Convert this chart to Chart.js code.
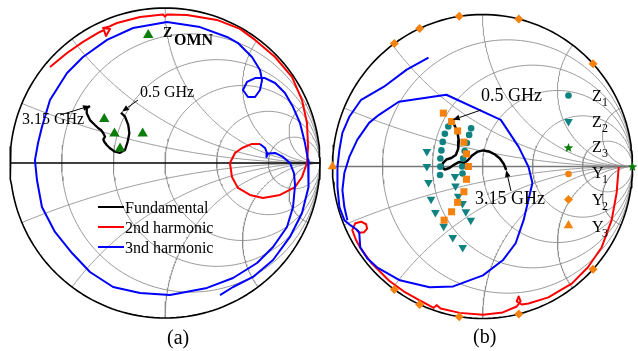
<!DOCTYPE html>
<html>
<head>
<meta charset="utf-8">
<script src="https://cdn.jsdelivr.net/npm/chart.js@4/dist/chart.umd.min.js"></script>
<style>
html, body { margin: 0; padding: 0; background: #fff; }
#wrap { position: relative; width: 638px; height: 351px; overflow: hidden; background: #fff; }
canvas { position: absolute; top: 0; }
</style>
</head>
<body>
<div id="wrap">
  <canvas id="smithA" width="330" height="351" style="left:0px"></canvas>
  <canvas id="smithB" width="314" height="351" style="left:324px"></canvas>
</div>
<script>
// Smith chart grid: normalized resistance circles and reactance arcs
const resistanceCircles = [0.2, 0.5, 1, 2, 5];
const reactanceArcs = [0.2, 0.5, 1, 2, 5, -0.2, -0.5, -1, -2, -5];

// ---- (a) reflection coefficients, [Re, Im] ----
const fundamentalA = [[-0.284,0.325],[-0.258,0.299],[-0.237,0.245],[-0.230,0.192],[-0.241,0.137],[-0.258,0.084],[-0.290,0.066],[-0.323,0.073],[-0.355,0.095],[-0.376,0.116],[-0.392,0.137],[-0.398,0.153],[-0.387,0.170],[-0.398,0.192],[-0.413,0.213],[-0.430,0.224],[-0.452,0.245],[-0.484,0.277],[-0.505,0.321],[-0.505,0.353],[-0.484,0.368]];
const harmonic2A = [[-0.742,0.619],[-0.632,0.710],[-0.529,0.781],[-0.432,0.839],[-0.394,0.858],[-0.381,0.819],[-0.355,0.865],[-0.400,0.871],[-0.368,0.877],[-0.310,0.903],[-0.161,0.942],[-0.013,0.958],[0,0.945],[0.013,0.958],[0.142,0.955],[0.335,0.923],[0.484,0.865],[0.581,0.794],[0.710,0.684],[0.819,0.555],[0.884,0.406],[0.916,0.258],[0.923,0.103],[0.916,0],[0.884,-0.090],[0.839,-0.155],[0.742,-0.206],[0.632,-0.226],[0.548,-0.206],[0.471,-0.161],[0.432,-0.090],[0.419,0],[0.452,0.065],[0.497,0.097],[0.561,0.123],[0.613,0.123]];
const harmonic3A = [[0.613,0.123],[0.645,0.097],[0.658,0.065],[0.655,0.039],[0.665,0.061],[0.710,0.065],[0.761,0.039],[0.806,0],[0.832,-0.065],[0.839,-0.142],[0.826,-0.284],[0.787,-0.413],[0.697,-0.542],[0.594,-0.645],[0.439,-0.742],[0.271,-0.806],[0.032,-0.852],[-0.161,-0.839],[-0.335,-0.800],[-0.484,-0.703],[-0.600,-0.581],[-0.710,-0.445],[-0.794,-0.284],[-0.826,-0.110],[-0.839,0.019],[-0.819,0.129],[-0.794,0.232],[-0.742,0.406],[-0.632,0.581],[-0.529,0.684],[-0.374,0.794],[-0.206,0.871],[0.013,0.910],[0.226,0.877],[0.400,0.813],[0.471,0.774],[0.561,0.684],[0.613,0.600],[0.626,0.535],[0.613,0.471],[0.581,0.426],[0.535,0.426],[0.503,0.471],[0.529,0.523],[0.581,0.548],[0.645,0.548],[0.710,0.516],[0.774,0.452],[0.826,0.361],[0.871,0.258],[0.903,0.129],[0.923,0.019],[0.929,-0.065],[0.923,-0.155],[0.884,-0.323],[0.806,-0.477],[0.697,-0.626],[0.568,-0.735],[0.439,-0.800],[0.355,-0.852]];
const zOmnA = [[-0.108,0.826],[-0.392,0.284],[-0.326,0.190],[-0.144,0.190],[-0.290,0.094]];

// ---- (b) reflection coefficients, [Re, Im] ----
const fundamentalB = [[-0.198,0.294],[-0.182,0.261],[-0.165,0.215],[-0.158,0.168],[-0.162,0.116],[-0.178,0.076],[-0.208,0.056],[-0.241,0.046],[-0.264,0.023],[-0.271,-0.003],[-0.251,-0.020],[-0.221,-0.010],[-0.188,0.013],[-0.155,0.030],[-0.122,0.023],[-0.096,0.043],[-0.069,0.073],[-0.036,0.096],[0.003,0.106],[0.043,0.099],[0.083,0.079],[0.116,0.053],[0.142,0.017],[0.158,-0.023]];
const harmonic2B = [[0.908,-0.003],[0.894,-0.175],[0.861,-0.353],[0.795,-0.531],[0.703,-0.663],[0.597,-0.769],[0.439,-0.861],[0.307,-0.901],[0.261,-0.908],[0.228,-0.888],[0.241,-0.855],[0.254,-0.888],[0.228,-0.921],[0.135,-0.960],[0.003,-0.975],[-0.152,-0.963],[-0.279,-0.934],[-0.306,-0.912],[-0.325,-0.930],[-0.422,-0.879],[-0.526,-0.821],[-0.622,-0.752],[-0.739,-0.637],[-0.814,-0.537],[-0.845,-0.480],[-0.868,-0.419],[-0.848,-0.373],[-0.809,-0.363],[-0.776,-0.380],[-0.769,-0.409],[-0.789,-0.432],[-0.822,-0.436],[-0.842,-0.413]];
const harmonic3B = [[-0.360,0.716],[-0.505,0.637],[-0.657,0.525],[-0.809,0.439],[-0.888,0.327],[-0.934,0.221],[-0.954,0.109],[-0.967,-0.003],[-0.967,-0.135],[-0.954,-0.267],[-0.921,-0.353],[-0.881,-0.386],[-0.842,-0.413],[-0.822,-0.432],[-0.815,-0.531],[-0.769,-0.604],[-0.703,-0.663],[-0.551,-0.749],[-0.353,-0.795],[-0.195,-0.789],[0.003,-0.716],[0.135,-0.617],[0.221,-0.505],[0.274,-0.353],[0.333,-0.109],[0.307,-0.003],[0.241,0.129],[0.122,0.307],[-0.241,0.472],[-0.558,0.426],[-0.690,0.340],[-0.756,0.287],[-0.835,0.175],[-0.888,0.063],[-0.921,-0.043],[-0.934,-0.155],[-0.921,-0.267],[-0.901,-0.353]];
const z1B = [[-0.228,0.263],[-0.251,0.215],[-0.265,0.162],[-0.274,0.106],[-0.281,0.053],[-0.281,-0.001],[-0.283,-0.056],[-0.076,0.251],[-0.089,0.208],[-0.104,0.155],[-0.119,0.102],[-0.129,0.053],[-0.135,0],[-0.133,-0.046]];
const z2B = [[-0.371,0.098],[-0.371,0],[-0.360,-0.106],[-0.343,-0.215],[-0.314,-0.302],[-0.259,-0.393],[-0.198,-0.467],[-0.132,-0.533],[-0.183,-0.066],[-0.180,-0.129],[-0.162,-0.195],[-0.133,-0.243],[-0.111,-0.298],[-0.078,-0.353]];
const z3B = [[1,0]];
const ySquaresB = [[-0.261,0.351],[-0.206,0.296],[-0.166,0.234],[-0.124,0.160],[-0.107,0.083],[-0.094,0],[-0.107,-0.084],[-0.124,-0.166],[-0.166,-0.236],[-0.206,-0.298],[-0.256,-0.353]];
const y2B = [[-0.588,0.809],[-0.419,0.908],[-0.155,0.988],[0.242,0.970],[0.737,0.676],[-0.588,-0.809],[-0.419,-0.908],[-0.155,-0.988],[0.242,-0.970],[0.737,-0.676]];
const y3B = [[-1,0]];

const legendLabelsA = ['Fundamental', '2nd harmonic', '3nd harmonic'];
const legendLabelsB = ['Z', 'Z', 'Z', 'Y', 'Y', 'Y'];
const legendSubsB = ['1', '2', '3', '1', '2', '3'];

// colours
const BLUE = '#0000ff', RED = '#ff0000', BLACK = '#000000';
const TEAL = '#118282', ORANGE = '#f5820f', GREEN = '#0b7d0b', GRID = '#8f8f8f';
const SERIF = '"Liberation Serif", "Times New Roman", serif';

// ---- grid geometry in the reflection plane ----
function rCircle(r) {
  const c = r / (1 + r), rad = 1 / (1 + r), pts = [];
  for (let i = 0; i <= 180; i++) {
    const t = i / 180 * 2 * Math.PI;
    pts.push([c + rad * Math.cos(t), rad * Math.sin(t)]);
  }
  return pts;
}
function xArc(x) {
  const ax = Math.abs(x), cy = 1 / ax, rad = 1 / ax;
  const g0x = (ax * ax - 1) / (ax * ax + 1), g0y = 2 * ax / (ax * ax + 1);
  let a1 = Math.atan2(g0y - cy, g0x - 1);
  const a0 = -Math.PI / 2;
  if (a1 > a0) a1 -= 2 * Math.PI;
  const pts = [];
  for (let i = 0; i <= 160; i++) {
    const t = a0 + (a1 - a0) * i / 160;
    const px = 1 + rad * Math.cos(t), py = cy + rad * Math.sin(t);
    pts.push([px, x > 0 ? py : -py]);
  }
  return pts;
}

const xy = pts => pts.map(p => ({ x: p[0], y: p[1] }));
const lineSet = (pts, color, width, order) => ({
  data: xy(pts), showLine: true, borderColor: color, borderWidth: width,
  pointRadius: 0, fill: false, tension: 0, order: order, clip: false,
  borderJoinStyle: 'round', borderCapStyle: 'butt'
});
const markSet = (pts, style, color, radius, rotation) => ({
  data: xy(pts), showLine: false, pointStyle: style, pointRadius: radius,
  pointRotation: rotation || 0, backgroundColor: color, borderColor: color,
  borderWidth: 0, order: 1, clip: false
});

function gridSets(axisColor) {
  const sets = [];
  resistanceCircles.forEach(r => sets.push(lineSet(rCircle(r), GRID, 0.9, 6)));
  reactanceArcs.forEach(x => sets.push(lineSet(xArc(x), GRID, 0.9, 6)));
  sets.push(lineSet([[-1, 0], [1, 0]], axisColor, 1.6, 5));
  sets.push(lineSet(rCircle(0), BLACK, 1.6, 4));
  return sets;
}

// five-pointed star image used as a point style
function starImage(size, color) {
  const c = document.createElement('canvas');
  c.width = size; c.height = size;
  const g = c.getContext('2d');
  drawMarker(g, 'star', size / 2, size / 2 + 0.5, size / 2 - 0.5, color);
  return c;
}
function drawMarker(ctx, style, x, y, r, color) {
  ctx.save();
  ctx.fillStyle = color;
  ctx.beginPath();
  if (style === 'circle') {
    ctx.arc(x, y, r, 0, 2 * Math.PI);
  } else if (style === 'triDown') {
    ctx.moveTo(x - r * 0.866, y - r * 0.5);
    ctx.lineTo(x + r * 0.866, y - r * 0.5);
    ctx.lineTo(x, y + r);
  } else if (style === 'triUp') {
    ctx.moveTo(x - r * 0.866, y + r * 0.5);
    ctx.lineTo(x + r * 0.866, y + r * 0.5);
    ctx.lineTo(x, y - r);
  } else if (style === 'diamond') {
    ctx.moveTo(x, y - r); ctx.lineTo(x + r, y); ctx.lineTo(x, y + r); ctx.lineTo(x - r, y);
  } else if (style === 'square') {
    ctx.rect(x - r * 0.707, y - r * 0.707, r * 1.414, r * 1.414);
  } else if (style === 'star') {
    for (let i = 0; i < 10; i++) {
      const rr = i % 2 === 0 ? r : r * 0.42;
      const a = -Math.PI / 2 + i * Math.PI / 5;
      const px = x + rr * Math.cos(a), py = y + rr * Math.sin(a);
      if (i === 0) ctx.moveTo(px, py); else ctx.lineTo(px, py);
    }
  }
  ctx.closePath();
  ctx.fill();
  ctx.restore();
}
function arrow(ctx, x0, y0, x1, y1) {
  const a = Math.atan2(y1 - y0, x1 - x0), L = 7, W = 2.8;
  const bx = x1 - L * Math.cos(a), by = y1 - L * Math.sin(a);
  ctx.save();
  ctx.strokeStyle = BLACK; ctx.fillStyle = BLACK; ctx.lineWidth = 1;
  ctx.beginPath(); ctx.moveTo(x0, y0); ctx.lineTo(bx, by); ctx.stroke();
  ctx.beginPath(); ctx.moveTo(x1, y1);
  ctx.lineTo(bx + W * Math.sin(a), by - W * Math.cos(a));
  ctx.lineTo(bx - W * Math.sin(a), by + W * Math.cos(a));
  ctx.closePath(); ctx.fill();
  ctx.restore();
}
function px(chart, p) {
  return [chart.scales.x.getPixelForValue(p[0]), chart.scales.y.getPixelForValue(p[1])];
}
function text(ctx, s, x, y, font) {
  ctx.save();
  ctx.font = font; ctx.fillStyle = BLACK; ctx.textBaseline = 'alphabetic'; ctx.textAlign = 'left';
  ctx.fillText(s, x, y);
  ctx.restore();
}

const baseOptions = padding => ({
  responsive: false, animation: false, events: [],
  layout: { padding: padding },
  scales: {
    x: { type: 'linear', min: -1, max: 1, display: false },
    y: { type: 'linear', min: -1, max: 1, display: false }
  },
  plugins: { legend: { display: false }, tooltip: { enabled: false } }
});

// ---- chart (a) ----
const notesA = {
  id: 'notesA',
  afterDraw(chart) {
    const ctx = chart.ctx;
    const f = '16px ' + SERIF;
    const start = px(chart, fundamentalA[0]);
    const end = px(chart, fundamentalA[fundamentalA.length - 1]);
    text(ctx, '0.5 GHz', 140, 97, f);
    arrow(ctx, 138, 100, start[0] + 1, start[1] - 1);
    text(ctx, '3.15 GHz', 22, 124, f);
    arrow(ctx, 60, 115, end[0], end[1]);
    text(ctx, 'Z', 163, 37, 'bold 14px ' + SERIF);
    text(ctx, 'OMN', 174, 45, 'bold 16px ' + SERIF);
    const cols = [BLACK, RED, BLUE];
    const ys = [207, 227, 247];
    legendLabelsA.forEach((lab, i) => {
      ctx.save();
      ctx.strokeStyle = cols[i]; ctx.lineWidth = 2;
      ctx.beginPath(); ctx.moveTo(98, ys[i]); ctx.lineTo(124, ys[i]); ctx.stroke();
      ctx.restore();
      text(ctx, lab, 125, ys[i] + 6, f);
    });
    text(ctx, '(a)', 167, 344, '20px ' + SERIF);
  }
};
new Chart(document.getElementById('smithA'), {
  type: 'scatter',
  data: {
    datasets: gridSets(BLACK).concat([
      lineSet(harmonic3A, BLUE, 2, 3),
      lineSet(harmonic2A, RED, 2, 3),
      lineSet(fundamentalA, BLACK, 2.3, 2),
      markSet(zOmnA, 'triangle', GREEN, 6)
    ])
  },
  options: baseOptions({ left: 10, right: 10, top: 8, bottom: 33 }),
  plugins: [notesA]
});

// ---- chart (b) ----
const OX = 324; // page offset of canvas (b)
const notesB = {
  id: 'notesB',
  afterDraw(chart) {
    const ctx = chart.ctx;
    const f = '18px ' + SERIF;
    const start = px(chart, fundamentalB[0]);
    const end = px(chart, fundamentalB[fundamentalB.length - 1]);
    text(ctx, '0.5 GHz', 481 - OX, 101, f);
    arrow(ctx, 481 - OX, 110, start[0], start[1] - 2);
    text(ctx, '3.15 GHz', 475 - OX, 204, f);
    arrow(ctx, 511 - OX, 191, end[0], end[1]);
    const styles = ['circle', 'triDown', 'star', 'circle', 'diamond', 'triUp'];
    const cols = [TEAL, TEAL, GREEN, ORANGE, ORANGE, ORANGE];
    const sizes = [3.3, 5, 5, 3.3, 4.5, 5.5];
    const my = [95.5, 121.5, 148, 174, 199.5, 225.5];
    const by = [100.5, 127, 152, 178, 205, 231.5];
    legendLabelsB.forEach((lab, i) => {
      drawMarker(ctx, styles[i], 568.5 - OX, my[i], sizes[i], cols[i]);
      text(ctx, lab, 592 - OX, by[i], '16px ' + SERIF);
      text(ctx, legendSubsB[i], 602 - OX, by[i] + 5, '12px ' + SERIF);
    });
    text(ctx, '(b)', 473 - OX, 343, '20px ' + SERIF);
  }
};
new Chart(document.getElementById('smithB'), {
  type: 'scatter',
  data: {
    datasets: gridSets('#777777').concat([
      lineSet(harmonic3B, BLUE, 2, 3),
      lineSet(harmonic2B, RED, 2, 3),
      markSet(ySquaresB, 'rect', ORANGE, 5),
      markSet(z1B, 'circle', TEAL, 3.3),
      markSet(z2B, 'triangle', TEAL, 5, 180),
      markSet(y2B, 'rectRot', ORANGE, 4.5),
      markSet(y3B, 'triangle', ORANGE, 5.5),
      markSet(z3B, starImage(11, GREEN), GREEN, 5.5),
      lineSet(fundamentalB, BLACK, 2.5, 2)
    ])
  },
  options: baseOptions({ left: 8.5, right: 1.5, top: 14.5, bottom: 32.5 }),
  plugins: [notesB]
});
</script>
</body>
</html>
